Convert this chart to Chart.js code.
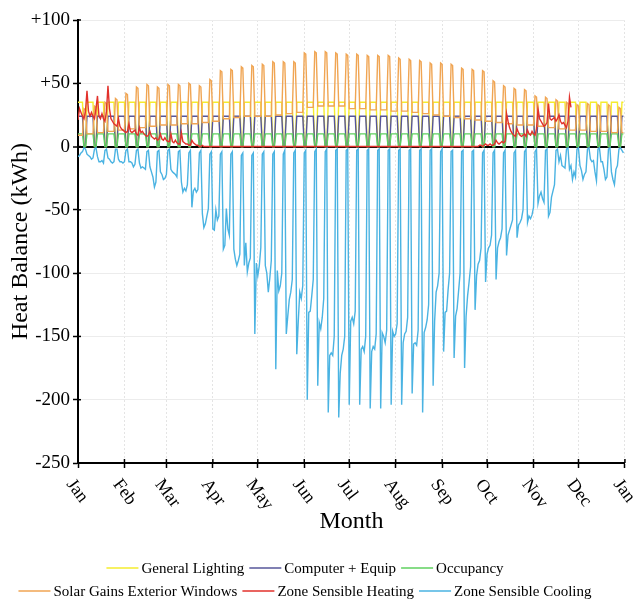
<!DOCTYPE html>
<html><head><meta charset="utf-8">
<script src="https://cdn.jsdelivr.net/npm/chart.js@4.4.1/dist/chart.umd.min.js"></script>
<style>html,body{margin:0;padding:0;background:#fff}#wrap{width:644px;height:599px;position:relative}</style>
</head><body><div id="wrap"><canvas id="c"></canvas></div>
<script>
// Month tick positions (day of year) and labels
const monthStartDays = [0,31,59,90,120,151,181,212,243,273,304,334,365];
const monthLabels = ['Jan','Feb','Mar','Apr','May','Jun','Jul','Aug','Sep','Oct','Nov','Dec','Jan'];
const seriesNames = ['General Lighting','Computer + Equip','Occupancy','Solar Gains Exterior Windows','Zone Sensible Heating','Zone Sensible Cooling'];

// Daily values (kWh), first row Tue..Sun, then one row per week Mon..Sun, last row Mon,Tue
const generalLighting = [
35,35,35,35,0,0,
35,35,35,35,35,0,0, 35,35,35,35,35,0,0, 35,35,35,35,35,0,0, 35,35,35,35,35,0,0, 35,35,35,35,35,0,0,
35,35,35,35,35,0,0, 35,35,35,35,35,0,0, 35,35,35,35,35,0,0, 35,35,35,35,35,0,0, 35,35,35,35,35,0,0,
35,35,35,35,35,0,0, 35,35,35,35,35,0,0, 35,35,35,35,35,0,0, 35,35,35,35,35,0,0, 35,35,35,35,35,0,0,
35,35,35,35,35,0,0, 35,35,35,35,35,0,0, 35,35,35,35,35,0,0, 35,35,35,35,35,0,0, 35,35,35,35,35,0,0,
35,35,35,35,35,0,0, 35,35,35,35,35,0,0, 35,35,35,35,35,0,0, 35,35,35,35,35,0,0, 35,35,35,35,35,0,0,
35,35,35,35,35,0,0, 35,35,35,35,35,0,0, 35,35,35,35,35,0,0, 35,35,35,35,35,0,0, 35,35,35,35,35,0,0,
35,35,35,35,35,0,0, 35,35,35,35,35,0,0, 35,35,35,35,35,0,0, 35,35,35,35,35,0,0, 35,35,35,35,35,0,0,
35,35,35,35,35,0,0, 35,35,35,35,35,0,0, 35,35,35,35,35,0,0, 35,35,35,35,35,0,0, 35,35,35,35,35,0,0,
35,35,35,35,35,0,0, 35,35,35,35,35,0,0, 35,35,35,35,35,0,0, 35,35,35,35,35,0,0, 35,35,35,35,35,0,0,
35,35,35,35,35,0,0, 35,35,35,35,35,0,0, 35,35,35,35,35,0,0, 35,35,35,35,35,0,0, 35,35,35,35,35,0,0,
35,35,35,35,35,0,0,
35,35];

const computerEquip = [
24,24,24,24,0,0,
24,24,24,24,24,0,0, 24,24,24,24,24,0,0, 24,24,24,24,24,0,0, 24,24,24,24,24,0,0, 24,24,24,24,24,0,0,
24,24,24,24,24,0,0, 24,24,24,24,24,0,0, 24,24,24,24,24,0,0, 24,24,24,24,24,0,0, 24,24,24,24,24,0,0,
24,24,24,24,24,0,0, 24,24,24,24,24,0,0, 24,24,24,24,24,0,0, 24,24,24,24,24,0,0, 24,24,24,24,24,0,0,
24,24,24,24,24,0,0, 24,24,24,24,24,0,0, 24,24,24,24,24,0,0, 24,24,24,24,24,0,0, 24,24,24,24,24,0,0,
24,24,24,24,24,0,0, 24,24,24,24,24,0,0, 24,24,24,24,24,0,0, 24,24,24,24,24,0,0, 24,24,24,24,24,0,0,
24,24,24,24,24,0,0, 24,24,24,24,24,0,0, 24,24,24,24,24,0,0, 24,24,24,24,24,0,0, 24,24,24,24,24,0,0,
24,24,24,24,24,0,0, 24,24,24,24,24,0,0, 24,24,24,24,24,0,0, 24,24,24,24,24,0,0, 24,24,24,24,24,0,0,
24,24,24,24,24,0,0, 24,24,24,24,24,0,0, 24,24,24,24,24,0,0, 24,24,24,24,24,0,0, 24,24,24,24,24,0,0,
24,24,24,24,24,0,0, 24,24,24,24,24,0,0, 24,24,24,24,24,0,0, 24,24,24,24,24,0,0, 24,24,24,24,24,0,0,
24,24,24,24,24,0,0, 24,24,24,24,24,0,0, 24,24,24,24,24,0,0, 24,24,24,24,24,0,0, 24,24,24,24,24,0,0,
24,24,24,24,24,0,0,
24,24];

const occupancy = [
10,10,10,10,0,0,
10,10,10,10,10,0,0, 10,10,10,10,10,0,0, 10,10,10,10,10,0,0, 10,10,10,10,10,0,0, 10,10,10,10,10,0,0,
10,10,10,10,10,0,0, 10,10,10,10,10,0,0, 10,10,10,10,10,0,0, 10,10,10,10,10,0,0, 10,10,10,10,10,0,0,
10,10,10,10,10,0,0, 10,10,10,10,10,0,0, 10,10,10,10,10,0,0, 10,10,10,10,10,0,0, 10,10,10,10,10,0,0,
10,10,10,10,10,0,0, 10,10,10,10,10,0,0, 10,10,10,10,10,0,0, 10,10,10,10,10,0,0, 10,10,10,10,10,0,0,
10,10,10,10,10,0,0, 10,10,10,10,10,0,0, 10,10,10,10,10,0,0, 10,10,10,10,10,0,0, 10,10,10,10,10,0,0,
10,10,10,10,10,0,0, 10,10,10,10,10,0,0, 10,10,10,10,10,0,0, 10,10,10,10,10,0,0, 10,10,10,10,10,0,0,
10,10,10,10,10,0,0, 10,10,10,10,10,0,0, 10,10,10,10,10,0,0, 10,10,10,10,10,0,0, 10,10,10,10,10,0,0,
10,10,10,10,10,0,0, 10,10,10,10,10,0,0, 10,10,10,10,10,0,0, 10,10,10,10,10,0,0, 10,10,10,10,10,0,0,
10,10,10,10,10,0,0, 10,10,10,10,10,0,0, 10,10,10,10,10,0,0, 10,10,10,10,10,0,0, 10,10,10,10,10,0,0,
10,10,10,10,10,0,0, 10,10,10,10,10,0,0, 10,10,10,10,10,0,0, 10,10,10,10,10,0,0, 10,10,10,10,10,0,0,
10,10,10,10,10,0,0,
10,10];

const solarGains = [
9,9,9,9,30,29,
10,10,10,10,10,32,31, 11,11,11,11,11,35,34, 12,12,12,12,12,38,37, 13,13,13,13,13,42,41, 14,14,14,14,14,47,46,
15,15,15,15,15,49,48, 16,16,16,16,16,47,46, 17,17,17,17,17,49,48, 17,17,17,17,17,49,48, 18,18,18,18,18,50,49,
18,18,18,18,18,48,47, 19,19,19,19,19,53,52, 20,20,20,20,20,60,59, 22,22,22,22,22,61,60, 23,23,23,23,23,63,62,
24,24,24,24,24,64,63, 24,24,24,24,24,65,64, 24,24,24,24,24,67,66, 25,25,25,25,25,67,66, 26,26,26,26,26,67,66,
27,27,27,27,27,74,73, 31,31,31,31,31,75,74, 32,32,32,32,32,75,74, 32,32,32,32,32,74,73, 32,32,32,32,32,73,72,
30,30,30,30,30,73,72, 30,30,30,30,30,72,71, 29,29,29,29,29,72,71, 29,29,29,29,29,72,71, 28,28,28,28,28,70,69,
28,28,28,28,28,69,68, 27,27,27,27,27,68,67, 26,26,26,26,26,66,65, 25,25,25,25,25,66,65, 24,24,24,24,24,65,64,
23,23,23,23,23,62,61, 22,22,22,22,22,61,60, 21,21,21,21,21,60,59, 20,20,20,20,20,52,51, 19,19,19,19,19,48,47,
18,18,18,18,18,46,45, 17,17,17,17,17,45,44, 17,17,17,17,17,40,39, 16,16,16,16,16,39,38, 15,15,15,15,15,37,36,
14,14,14,14,14,35,34, 13,13,13,13,13,33,32, 13,13,13,13,13,34,33, 12,12,12,12,12,33,32, 12,12,12,12,12,33,32,
11,11,11,11,11,31,30,
11,11];

const zoneHeating = [
21,30,27,24,22,28,
44,28,24,27,24,22,30, 40,24,22,26,22,20,28, 48,30,22,20,18,17,16, 22,16,14,13,12,11,12, 18,12,11,12,13,10,9,
15,11,12,10,9,8,9, 12,8,7,6,7,5,6, 10,6,5,7,5,4,4, 10,4,3,5,3,2,2, 11,4,3,2,2,1,1,
5,3,2,1,1,0,0, 1,0,0,0,0,0,0, 0,0,0,0,0,0,0, 0,0,0,0,0,0,0, 0,0,0,0,0,0,0,
0,0,0,0,0,0,0, 0,0,0,0,0,0,0, 0,0,0,0,0,0,0, 0,0,0,0,0,0,0, 0,0,0,0,0,0,0,
0,0,0,0,0,0,0, 0,0,0,0,0,0,0, 0,0,0,0,0,0,0, 0,0,0,0,0,0,0, 0,0,0,0,0,0,0,
0,0,0,0,0,0,0, 0,0,0,0,0,0,0, 0,0,0,0,0,0,0, 0,0,0,0,0,0,0, 0,0,0,0,0,0,0,
0,0,0,0,0,0,0, 0,0,0,0,0,0,0, 0,0,0,0,0,0,0, 0,0,0,0,0,0,0, 0,0,0,0,0,0,0,
0,0,0,0,0,0,0, 0,0,0,0,0,0,0, 0,0,0,1,1,0,1, 2,1,1,2,1,1,2, 5,3,2,3,4,3,4,
26,20,15,12,10,9,8, 14,11,9,8,9,10,8, 13,10,9,12,10,9,14, 30,22,20,18,16,17,19, 34,22,21,22,23,20,22,
25,20,18,19,17,15,20,
39,31];

const zoneCooling = [
-8,-7,-5,-4,-1,-2,
-6,-7,-8,-10,-9,-2,-1, -8,-12,-12,-11,-13,-3,-2, -9,-10,-12,-13,-12,-2,-2, -10,-12,-12,-13,-12,-3,-2, -12,-12,-13,-16,-14,-3,-2,
-13,-17,-16,-17,-18,-4,-3, -16,-20,-24,-32,-28,-4,-3, -20,-22,-26,-25,-22,-3,-2, -18,-20,-21,-22,-24,-4,-3, -28,-36,-33,-35,-30,-5,-3,
-48,-35,-33,-36,-34,-5,-3, -53,-64,-61,-55,-49,-6,-4, -65,-66,-50,-58,-55,-6,-4, -81,-78,-49,-65,-70,-6,-4, -81,-89,-94,-90,-85,-7,-5,
-94,-76,-99,-92,-88,-7,-5, -148,-92,-102,-94,-80,-6,-4, -94,-100,-115,-104,-90,-6,-4, -176,-98,-114,-110,-100,-6,-3, -148,-134,-121,-115,-105,-5,-3,
-164,-138,-115,-120,-110,-5,-3, -200,-131,-130,-118,-105,-4,-2, -189,-139,-144,-135,-120,-4,-2, -210,-165,-163,-165,-150,-3,-2, -214,-179,-165,-160,-150,-3,-2,
-204,-138,-135,-140,-130,-3,-2, -204,-160,-158,-162,-150,-3,-2, -207,-162,-158,-160,-148,-3,-2, -207,-147,-150,-155,-145,-3,-2, -204,-146,-150,-148,-140,-3,-2,
-204,-155,-148,-146,-135,-3,-2, -195,-156,-155,-157,-145,-3,-2, -210,-147,-143,-137,-125,-3,-2, -189,-138,-115,-110,-100,-4,-2, -162,-131,-130,-113,-100,-4,-3,
-167,-134,-128,-114,-100,-4,-3, -175,-134,-118,-107,-95,-4,-3, -129,-102,-93,-90,-80,-5,-3, -107,-85,-80,-78,-70,-5,-3, -105,-80,-75,-72,-65,-5,-3,
-86,-70,-66,-62,-58,-5,-3, -72,-62,-60,-57,-50,-4,-2, -60,-55,-57,-54,-48,-4,-2, -45,-39,-36,-41,-44,-3,-2, -55,-52,-40,-35,-30,-3,-2,
-12,-7,-15,-16,-17,-2,-1, -18,-15,-26,-20,-24,-2,-1, -15,-19,-26,-22,-20,-2,-1, -10,-12,-11,-20,-27,-2,-1, -12,-12,-18,-26,-24,-2,-1,
-20,-26,-30,-18,-15,-2,-1,
-3,-5];

const seriesData = [generalLighting, computerEquip, occupancy, solarGains, zoneHeating, zoneCooling];
const seriesColors = ['#f5ec2e','#56569a','#5fd05f','#f0a553','#e2312b','#4ab3e2'];
const drawOrder = [6,5,4,3,2,1];
const legendRows = [[0,1,2],[3,4,5]];

const FONT = '"Liberation Serif", "Times New Roman", serif';

const datasets = seriesData.map((arr, s) => ({
  label: seriesNames[s],
  data: arr.map((v, i) => ({x: i, y: v})),
  borderColor: seriesColors[s],
  backgroundColor: seriesColors[s],
  borderWidth: 1.4,
  pointRadius: 0,
  tension: 0,
  fill: false,
  order: drawOrder[s]
}));

const axisExtras = {
  id: 'axisExtras',
  afterDraw(chart) {
    const ctx = chart.ctx, xs = chart.scales.x, ys = chart.scales.y;
    ctx.save();
    // inner halves of tick marks
    ctx.strokeStyle = '#000'; ctx.lineWidth = 1.5;
    monthStartDays.forEach(d => {
      const x = xs.getPixelForValue(d);
      ctx.beginPath(); ctx.moveTo(x, ys.bottom); ctx.lineTo(x, ys.bottom - 4); ctx.stroke();
    });
    ys.ticks.forEach(t => {
      const y = ys.getPixelForValue(t.value);
      ctx.beginPath(); ctx.moveTo(xs.left, y); ctx.lineTo(xs.left + 3, y); ctx.stroke();
    });
    // rotated month labels, reading downward to the right from each tick
    ctx.font = '18px ' + FONT;
    ctx.fillStyle = '#000';
    ctx.textAlign = 'left';
    ctx.textBaseline = 'top';
    monthStartDays.forEach((d, i) => {
      const x = xs.getPixelForValue(d);
      ctx.save();
      ctx.translate(x - 1, ys.bottom + 13);
      ctx.rotate(53 * Math.PI / 180);
      ctx.fillText(monthLabels[i], 0, 0);
      ctx.restore();
    });
    // legend: two centred rows of line samples and names
    ctx.font = '15px ' + FONT;
    ctx.textBaseline = 'middle';
    const rowY = [568, 591], lineLen = 32, gapA = 3, gapB = 5, centerX = 305;
    legendRows.forEach((row, ri) => {
      const widths = row.map(i => lineLen + gapA + ctx.measureText(chart.data.datasets[i].label).width);
      const total = widths.reduce((a, b) => a + b, 0) + gapB * (row.length - 1);
      let x = centerX - total / 2;
      row.forEach((i, k) => {
        const ds = chart.data.datasets[i];
        ctx.strokeStyle = ds.borderColor; ctx.lineWidth = 1.5;
        ctx.beginPath(); ctx.moveTo(x, rowY[ri]); ctx.lineTo(x + lineLen, rowY[ri]); ctx.stroke();
        ctx.fillStyle = '#000';
        ctx.fillText(ds.label, x + lineLen + gapA, rowY[ri] + 1);
        x += widths[k] + gapB;
      });
    });
    ctx.restore();
  }
};

new Chart(document.getElementById('c'), {
  type: 'line',
  data: { datasets },
  plugins: [axisExtras],
  options: {
    responsive: true,
    maintainAspectRatio: false,
    animation: false,
    layout: { padding: { top: 20, right: 10, left: 0, bottom: 50 } },
    plugins: {
      legend: { display: false },
      tooltip: { enabled: false }
    },
    scales: {
      x: {
        type: 'linear',
        min: 0, max: 365,
        afterBuildTicks: s => { s.ticks = monthStartDays.map(v => ({ value: v })); },
        afterFit: s => { s.height = 86; },
        ticks: {
          autoSkip: false, minRotation: 52, maxRotation: 52,
          color: 'rgba(0,0,0,0)',
          font: { family: FONT, size: 17 },
          callback: (v, i) => monthLabels[i]
        },
        grid: { color: '#e4e4e4', lineWidth: 1, tickLength: 5, tickColor: '#000', tickWidth: 1.5 },
        border: { color: '#000', width: 2, dash: [2, 2] },
        title: { display: true, text: 'Month', color: '#000', font: { family: FONT, size: 24 }, padding: { top: 0, bottom: 13 } }
      },
      y: {
        min: -250, max: 100,
        afterFit: s => { s.width = 78; },
        ticks: {
          stepSize: 50, color: '#000',
          font: { family: FONT, size: 19 },
          callback: v => (v > 0 ? '+' + v : String(v))
        },
        grid: {
          color: c => (c.tick && c.tick.value === 0 ? '#000' : '#ececec'),
          lineWidth: c => (c.tick && c.tick.value === 0 ? 2 : 1),
          tickLength: 5, tickColor: '#000', tickWidth: 1.5
        },
        border: { color: '#000', width: 2 },
        title: { display: true, text: 'Heat Balance (kWh)', color: '#000', font: { family: FONT, size: 24 }, padding: { top: 6, bottom: 2 } }
      }
    }
  }
});
</script>
</body></html>
